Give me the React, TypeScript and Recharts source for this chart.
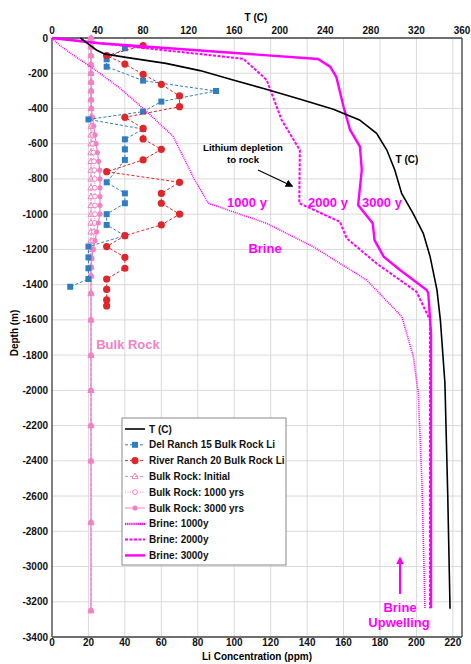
import React from "react";
import { CartesianGrid, ReferenceLine, Scatter, ScatterChart, XAxis, YAxis } from "recharts";

const FONT = '"Liberation Sans", Arial, Helvetica, sans-serif';
const BLUE = "#2f7ec1";
const RED = "#e0262b";
const PINK = "#f382c4";
const MAGENTA = "#ff00ff";

// axes
const liTicks = [0, 20, 40, 60, 80, 100, 120, 140, 160, 180, 200, 220];
const tTicks = [0, 40, 80, 120, 160, 200, 240, 280, 320, 360];
const depthTicks = [
  0, -200, -400, -600, -800, -1000, -1200, -1400, -1600, -1800, -2000, -2200, -2400, -2600, -2800,
  -3000, -3200, -3400,
];

// temperature profile (top axis, deg C)
const tDepth = [0, -35, -68, -90, -110, -144, -185, -238, -291, -348, -405, -465, -541, -636, -749, -882, -995, -1109, -1241, -1430, -1600, -1958, -2600, -3240];
const tValue = [25, 32, 39, 46, 65, 100, 130, 159, 188, 218, 247, 270, 285, 294, 301, 307, 317, 326, 332, 338, 341, 345, 347.5, 349.5];

// Del Ranch 15 well
const delDepth = [-58, -121, -163, -242, -301, -361, -418, -462, -517, -575, -632, -692, -819, -882, -938, -1000, -1061, -1122, -1184, -1245, -1307, -1368, -1412];
const delLi = [40, 30, 30, 50, 90, 60, 50, 20, 50, 40, 40, 40, 30, 40, 40, 30, 30, 40, 20, 20, 20, 20, 10];

// River Ranch 20 well
const rrDepth = [-43, -100, -148, -206, -263, -329, -390, -450, -513, -573, -632, -692, -759, -819, -882, -938, -1000, -1061, -1122, -1184, -1245, -1307, -1368, -1427, -1487, -1521];
const rrLi = [50, 30, 40, 50, 60, 70, 70, 40, 50, 50, 60, 50, 30, 70, 60, 60, 70, 60, 40, 30, 40, 40, 30, 30, 30, 30];

// bulk rock model
const rockDepth = [
  0, -50, -100, -150, -200, -250, -300, -350, -400, -450, -500, -550, -600, -650, -700, -750, -800, -850,
  -900, -950, -1000, -1050, -1100, -1150, -1200, -1250, -1300, -1350, -1450, -1600, -1800, -2000, -2200,
  -2400, -2750, -3250,
];
const rockInitial = [
  21.4, 21.4, 21.4, 21.4, 21.4, 21.4, 21.4, 21.4, 21.4, 21.4, 21.4, 21.4, 21.4, 21.4, 21.4, 21.4, 21.4, 21.4,
  21.4, 21.4, 21.4, 21.4, 21.4, 21.4, 21.4, 21.4, 21.4, 21.4, 21.4, 21.4, 21.4, 21.4, 21.4, 21.4, 21.4, 21.4,
];
const rock1000 = [
  21.4, 21.4, 21.4, 21.4, 21.4, 21.5, 21.5, 21.5, 21.6, 21.8, 22.0, 22.2, 22.5, 22.7, 23.0, 23.2, 23.4, 23.5,
  23.6, 23.6, 23.6, 23.4, 23.0, 22.6, 22.1, 21.6, 21.4, 21.4, 21.4, 21.4, 21.4, 21.4, 21.4, 21.4, 21.4, 21.4,
];
const rock3000 = [
  21.4, 21.4, 21.4, 21.4, 21.4, 21.4, 21.5, 21.5, 21.6, 22.2, 22.9, 23.6, 24.2, 24.9, 25.6, 26.2, 26.3, 26.3,
  26.3, 26.3, 26.3, 25.4, 24.5, 23.6, 22.7, 21.8, 21.4, 21.4, 21.4, 21.4, 21.4, 21.4, 21.4, 21.4, 21.4, 21.4,
];

// brine model
const brine1000Depth = [0, -40, -97, -190, -285, -418, -560, -674, -800, -938, -1052, -1185, -1374, -1582, -1809, -2017, -2528, -3237];
const brine1000Li = [0, 4, 11.7, 25, 37.3, 52, 66.6, 72, 78, 85.8, 117.8, 143.4, 172.7, 192, 198.3, 201, 203, 204.7];
const brine2000Depth = [0, -118, -238, -465, -636, -938, -1043, -1137, -1279, -1440, -1600, -3237];
const brine2000Li = [0, 105, 117.8, 126, 136, 135.7, 158, 161.7, 178, 200, 207.4, 207.4];
const brine3000Depth = [0, -30, -119, -163, -220, -390, -522, -617, -749, -948, -1052, -1147, -1241, -1317, -1430, -1449, -1676, -3237];
const brine3000Li = [0, 26, 146, 152.6, 156, 160, 163.6, 169, 170, 168, 176, 177, 182, 191, 205.6, 206.5, 208, 208];

const zip = (xs: number[], ys: number[]) => xs.map((x, i) => ({ x, y: ys[i] }));

const noMark = () => <g />;
const squareMark = (p: any) => <rect x={p.cx - 3} y={p.cy - 3} width={6} height={6} fill={BLUE} />;
const circleMark = (p: any) => <circle cx={p.cx} cy={p.cy} r={3.6} fill={RED} />;
const triMark = (p: any) => (
  <path
    d={`M${p.cx},${p.cy - 3.4}L${p.cx + 3.1},${p.cy + 2.2}L${p.cx - 3.1},${p.cy + 2.2}Z`}
    fill="none"
    stroke={PINK}
    strokeWidth={1}
  />
);
const ringMark = (p: any) => <circle cx={p.cx} cy={p.cy} r={2.4} fill="#fff" stroke={PINK} strokeWidth={1} />;
const dotMark = (p: any) => <circle cx={p.cx} cy={p.cy} r={2.6} fill={PINK} />;

const legendItems = [
  { label: "T (C)", color: "#000", dash: undefined, width: 1.6, mark: null },
  { label: "Del Ranch 15 Bulk Rock Li", color: BLUE, dash: "3 2", width: 1, mark: "square" },
  { label: "River Ranch 20 Bulk Rock Li", color: RED, dash: "3 2", width: 1, mark: "circle" },
  { label: "Bulk Rock: Initial", color: PINK, dash: "3 2", width: 1, mark: "tri" },
  { label: "Bulk Rock: 1000 yrs", color: PINK, dash: "1 1.5", width: 1, mark: "ring" },
  { label: "Bulk Rock: 3000 yrs", color: PINK, dash: undefined, width: 1, mark: "dot" },
  { label: "Brine: 1000y", color: MAGENTA, dash: "1.3 0.8", width: 2.2, mark: null },
  { label: "Brine: 2000y", color: MAGENTA, dash: "3 1.5", width: 2, mark: null },
  { label: "Brine: 3000y", color: MAGENTA, dash: undefined, width: 2.4, mark: null },
];

function LegendMark({ mark, cx, cy }: { mark: string | null; cx: number; cy: number }) {
  if (mark === "square") return squareMark({ cx, cy });
  if (mark === "circle") return circleMark({ cx, cy });
  if (mark === "tri") return triMark({ cx, cy });
  if (mark === "ring") return ringMark({ cx, cy });
  if (mark === "dot") return dotMark({ cx, cy });
  return null;
}

function Overlay() {
  const bold = { fontFamily: FONT, fontWeight: 700 } as const;
  return (
    <svg
      width={471}
      height={664}
      style={{ position: "absolute", left: 0, top: 0, pointerEvents: "none" }}
    >
      <defs>
        <marker id="arrBlack" viewBox="0 0 10 10" refX="8" refY="5" markerWidth="6" markerHeight="6" orient="auto">
          <path d="M0,0L10,5L0,10Z" fill="#000" />
        </marker>
        <marker id="arrMag" viewBox="0 0 10 10" refX="8" refY="5" markerWidth="4" markerHeight="4" orient="auto">
          <path d="M0,0L10,5L0,10Z" fill={MAGENTA} />
        </marker>
      </defs>

      {/* axis titles */}
      <text x={256} y={21} textAnchor="middle" fontSize={10} {...bold}>T (C)</text>
      <text x={257} y={660} textAnchor="middle" fontSize={10} {...bold}>Li Concentration (ppm)</text>
      <text x={18} y={333} textAnchor="middle" fontSize={10} transform="rotate(-90 18 333)" {...bold}>
        Depth (m)
      </text>

      {/* annotations */}
      <text x={243} y={151} textAnchor="middle" fontSize={9.6} {...bold}>Lithium depletion</text>
      <text x={243} y={163} textAnchor="middle" fontSize={9.6} {...bold}>to rock</text>
      <line x1={258} y1={170} x2={292} y2={186} stroke="#000" strokeWidth={1.3} markerEnd="url(#arrBlack)" />
      <text x={407} y={163} textAnchor="middle" fontSize={10} {...bold}>T (C)</text>
      <text x={247} y={207} textAnchor="middle" fontSize={13} fill={MAGENTA} {...bold}>1000 y</text>
      <text x={328} y={207} textAnchor="middle" fontSize={13} fill={MAGENTA} {...bold}>2000 y</text>
      <text x={382} y={207} textAnchor="middle" fontSize={13} fill={MAGENTA} {...bold}>3000 y</text>
      <text x={265} y={253} textAnchor="middle" fontSize={13} fill={MAGENTA} {...bold}>Brine</text>
      <text x={128} y={349} textAnchor="middle" fontSize={13} fill={PINK} {...bold}>Bulk Rock</text>
      <text x={400} y={612} textAnchor="middle" fontSize={13} fill={MAGENTA} {...bold}>Brine</text>
      <text x={399} y={627} textAnchor="middle" fontSize={13} fill={MAGENTA} {...bold}>Upwelling</text>
      <line x1={400} y1={594} x2={400} y2={558} stroke={MAGENTA} strokeWidth={2} markerEnd="url(#arrMag)" />

      {/* legend */}
      <rect x={122} y={418} width={164} height={147} fill="#fff" stroke="#8a8a8a" strokeWidth={1} />
      {legendItems.map((it, i) => {
        const cy = 429 + i * 15.8;
        return (
          <g key={it.label}>
            <line x1={125} x2={145} y1={cy} y2={cy} stroke={it.color} strokeWidth={it.width} strokeDasharray={it.dash} />
            <LegendMark mark={it.mark} cx={135} cy={cy} />
            <text x={149} y={cy + 3.5} fontSize={10} fill="#111" {...bold}>{it.label}</text>
          </g>
        );
      })}
    </svg>
  );
}

export default function App() {
  const tick = { fontSize: 10, fontWeight: 700, fill: "#111", fontFamily: FONT };
  const axisLine = { stroke: "#444", strokeWidth: 1.3 };
  return (
    <div style={{ position: "absolute", left: 0, top: 0, width: 471, height: 664, background: "#fff" }}>
      <ScatterChart width={471} height={664} margin={{ top: 0, right: 9, bottom: 0, left: 0 }}>
        <CartesianGrid xAxisId="li" stroke="#dadada" strokeWidth={1} />
        <XAxis
          xAxisId="li"
          type="number"
          dataKey="x"
          orientation="bottom"
          domain={[0, 225]}
          ticks={liTicks}
          height={27}
          tick={tick}
          tickLine={false}
          tickSize={1}
          tickMargin={1}
          axisLine={axisLine}
        />
        <XAxis
          xAxisId="t"
          type="number"
          dataKey="x"
          orientation="top"
          domain={[0, 360]}
          ticks={tTicks}
          height={38}
          tick={tick}
          tickLine={false}
          tickSize={2}
          tickMargin={2}
          axisLine={axisLine}
        />
        <YAxis
          type="number"
          dataKey="y"
          domain={[-3400, 0]}
          ticks={depthTicks}
          width={52}
          tick={tick}
          tickLine={false}
          tickSize={2}
          tickMargin={2}
          axisLine={axisLine}
        />
        <ReferenceLine xAxisId="li" x={225} stroke="#444" strokeWidth={1.3} />

        <Scatter
          name="Bulk Rock: Initial"
          xAxisId="li"
          data={zip(rockInitial, rockDepth)}
          line={{ stroke: PINK, strokeWidth: 1, strokeDasharray: "3 2" }}
          lineType="joint"
          shape={triMark}
          isAnimationActive={false}
        />
        <Scatter
          name="Bulk Rock: 1000 yrs"
          xAxisId="li"
          data={zip(rock1000, rockDepth)}
          line={{ stroke: PINK, strokeWidth: 1, strokeDasharray: "1 1.5" }}
          lineType="joint"
          shape={ringMark}
          isAnimationActive={false}
        />
        <Scatter
          name="Bulk Rock: 3000 yrs"
          xAxisId="li"
          data={zip(rock3000, rockDepth)}
          line={{ stroke: PINK, strokeWidth: 1.2 }}
          lineType="joint"
          shape={dotMark}
          isAnimationActive={false}
        />
        <Scatter
          name="Del Ranch 15 Bulk Rock Li"
          xAxisId="li"
          data={zip(delLi, delDepth)}
          line={{ stroke: BLUE, strokeWidth: 1, strokeDasharray: "3 2" }}
          lineType="joint"
          shape={squareMark}
          isAnimationActive={false}
        />
        <Scatter
          name="River Ranch 20 Bulk Rock Li"
          xAxisId="li"
          data={zip(rrLi, rrDepth)}
          line={{ stroke: RED, strokeWidth: 1, strokeDasharray: "3 2" }}
          lineType="joint"
          shape={circleMark}
          isAnimationActive={false}
        />
        <Scatter
          name="Brine: 1000y"
          xAxisId="li"
          data={zip(brine1000Li, brine1000Depth)}
          line={{ stroke: MAGENTA, strokeWidth: 1.6, strokeDasharray: "1 1" }}
          lineType="joint"
          shape={noMark}
          isAnimationActive={false}
        />
        <Scatter
          name="Brine: 2000y"
          xAxisId="li"
          data={zip(brine2000Li, brine2000Depth)}
          line={{ stroke: MAGENTA, strokeWidth: 2, strokeDasharray: "3 1.5" }}
          lineType="joint"
          shape={noMark}
          isAnimationActive={false}
        />
        <Scatter
          name="Brine: 3000y"
          xAxisId="li"
          data={zip(brine3000Li, brine3000Depth)}
          line={{ stroke: MAGENTA, strokeWidth: 2.4 }}
          lineType="joint"
          shape={noMark}
          isAnimationActive={false}
        />
        <Scatter
          name="T (C)"
          xAxisId="t"
          data={zip(tValue, tDepth)}
          line={{ stroke: "#000", strokeWidth: 1.6 }}
          lineType="joint"
          shape={noMark}
          isAnimationActive={false}
        />
      </ScatterChart>
      <Overlay />
    </div>
  );
}
